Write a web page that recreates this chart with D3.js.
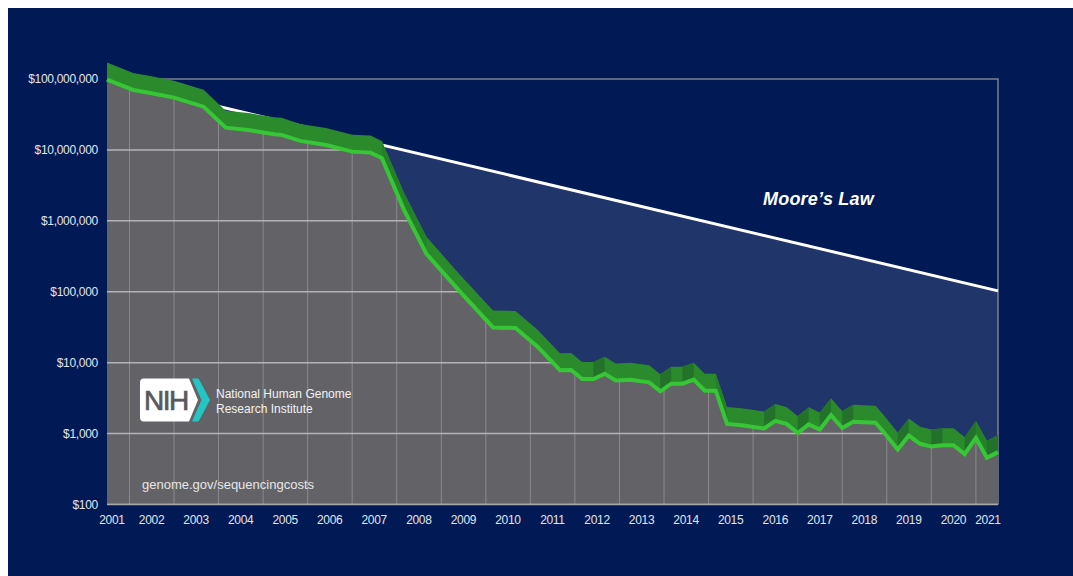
<!DOCTYPE html>
<html>
<head>
<meta charset="utf-8">
<title>Cost per Genome</title>
<script src="https://cdn.jsdelivr.net/npm/d3@7"></script>
<style>
  html, body { margin: 0; padding: 0; background: #fff; }
  svg { display: block; }
  text { font-family: "Liberation Sans", Arial, Helvetica, sans-serif; }
</style>
</head>
<body>
<div id="chart"></div>
<script>
// cost per genome
var dates = ["2001-07", "2002-02", "2002-07", "2003-01", "2003-09", "2004-03", "2004-09",
  "2005-04", "2005-06", "2005-11", "2006-06", "2007-01", "2007-06", "2007-09", "2008-03",
  "2008-09", "2009-06", "2010-03", "2010-09", "2011-03", "2011-09", "2011-12", "2012-03",
  "2012-06", "2012-09", "2012-12", "2013-04", "2013-09", "2013-12", "2014-03", "2014-06",
  "2014-09", "2014-12", "2015-03", "2015-06", "2015-10", "2016-04", "2016-07", "2016-10",
  "2017-01", "2017-04", "2017-07", "2017-10", "2018-01", "2018-04", "2018-10", "2018-12",
  "2019-04", "2019-07", "2019-10", "2020-01", "2020-04", "2020-07", "2020-10", "2021-01",
  "2021-04", "2021-07"];
var costs = [98000000, 70000000, 63000000, 54600000, 40700000, 20600000, 19100000,
  16600000, 16300000, 13400000, 11700000, 9460000, 9160000, 7700000, 1430000,
  343000, 101000, 31400, 30800, 16800, 7830, 7890, 5890,
  5890, 6950, 5610, 5720, 5280, 3950, 5060, 5060,
  5760, 4030, 4030, 1370, 1310, 1180, 1510, 1370,
  1020, 1350, 1140, 1820, 1200, 1470, 1420, 1080,
  596, 938, 718, 656, 684, 684, 514, 869,
  455, 548];

// Moore's law reference line
var mooreDates = ["2001-07", "2021-07"];
var mooreCosts = [97000000, 103000];

var yTicks = [100, 1000, 10000, 100000, 1000000, 10000000, 100000000];
var yearLabels = ["2001", "2002", "2003", "2004", "2005", "2006", "2007", "2008", "2009", "2010",
  "2011", "2012", "2013", "2014", "2015", "2016", "2017", "2018", "2019", "2020", "2021"];

var W = 1073, H = 576;
var x0 = 107, x1 = 998, yTop = 79, yBase = 504.5;
var depth = 17; // ribbon thickness

var parse = d3.timeParse("%Y-%m");
var data = dates.map(function(d, i) { return {date: parse(d), cost: costs[i]}; });
var moore = mooreDates.map(function(d, i) { return {date: parse(d), cost: mooreCosts[i]}; });

var x = d3.scaleTime()
    .domain([parse("2001-07"), parse("2021-07")])
    .range([x0, x1]);
var y = d3.scaleLog()
    .domain([100, 100000000])
    .range([yBase, yTop]);

var svg = d3.select("#chart").append("svg")
    .attr("width", W)
    .attr("height", H);

svg.append("rect")
    .attr("x", 8).attr("y", 8)
    .attr("width", W - 8).attr("height", H - 8)
    .attr("fill", "#011a55");

// area under Moore's law
svg.append("path")
    .datum(moore)
    .attr("fill", "#20356a")
    .attr("d", d3.area()
      .x(function(d) { return x(d.date); })
      .y0(yBase)
      .y1(function(d) { return y(d.cost); }));

// frame
svg.append("path")
    .attr("d", "M" + x0 + "," + yTop + "H" + x1 + "V" + yBase)
    .attr("fill", "none")
    .attr("stroke", "#7c8090")
    .attr("stroke-width", 1.5);

svg.append("path")
    .datum(moore)
    .attr("fill", "none")
    .attr("stroke", "#ffffff")
    .attr("stroke-width", 3)
    .attr("d", d3.line()
      .x(function(d) { return x(d.date); })
      .y(function(d) { return y(d.cost); }));

var grayArea = d3.area()
    .x(function(d) { return x(d.date); })
    .y0(yBase)
    .y1(function(d) { return y(d.cost); });

svg.append("clipPath").attr("id", "under")
  .append("path").datum(data).attr("d", grayArea);

svg.append("path")
    .datum(data)
    .attr("fill", "#636367")
    .attr("d", grayArea);

// gridlines, only inside the gray area
var grid = svg.append("g").attr("clip-path", "url(#under)");
var yearStarts = yearLabels.slice(1).map(function(s) { return parse(s + "-01"); });
grid.selectAll(".vgrid")
    .data(yearStarts)
  .enter().append("line")
    .attr("x1", function(d) { return x(d); })
    .attr("x2", function(d) { return x(d); })
    .attr("y1", yTop).attr("y2", yBase)
    .attr("stroke", "#8a8a8e")
    .attr("stroke-width", 1);
grid.selectAll(".hgrid")
    .data(yTicks)
  .enter().append("line")
    .attr("x1", x0).attr("x2", x1)
    .attr("y1", function(d) { return y(d); })
    .attr("y2", function(d) { return y(d); })
    .attr("stroke", "#b4b4b6")
    .attr("stroke-width", 1.5);

svg.append("line")
    .attr("x1", x0).attr("x2", x1)
    .attr("y1", yBase).attr("y2", yBase)
    .attr("stroke", "#a8a8ac")
    .attr("stroke-width", 1.5);

// green ribbon
svg.append("path")
    .datum(data)
    .attr("fill", "#2b8a2b")
    .attr("d", d3.area()
      .x(function(d) { return x(d.date); })
      .y0(function(d) { return y(d.cost); })
      .y1(function(d) { return y(d.cost) - depth; }));

var segs = d3.pairs(data).filter(function(p) {
  var dy = y(p[1].cost) - y(p[0].cost), dx = x(p[1].date) - x(p[0].date);
  return dy < -1 || dy / dx > 1.5;
});
svg.selectAll(".facet")
    .data(segs)
  .enter().append("path")
    .attr("fill", function(p) { return y(p[1].cost) < y(p[0].cost) ? "#22722a" : "#25802a"; })
    .attr("d", function(p) {
      var xa = x(p[0].date), xb = x(p[1].date), ya = y(p[0].cost), yb = y(p[1].cost);
      return "M" + xa + "," + ya + "L" + xb + "," + yb + "L" + xb + "," + (yb - depth) +
        "L" + xa + "," + (ya - depth) + "Z";
    });

svg.append("path")
    .datum(data)
    .attr("fill", "none")
    .attr("stroke", "#36c636")
    .attr("stroke-width", 4)
    .attr("d", d3.line()
      .x(function(d) { return x(d.date); })
      .y(function(d) { return y(d.cost); }));

// y axis labels
var yAxis = svg.append("g")
    .attr("transform", "translate(" + (x0 - 9) + ",0)")
    .call(d3.axisLeft(y).tickValues(yTicks).tickSize(0).tickFormat(d3.format("$,")));
yAxis.select(".domain").remove();
yAxis.selectAll("text")
    .attr("x", 0)
    .attr("fill", "#e2e5ec")
    .style("font-size", "12px")
    .style("letter-spacing", "-0.3px")
    .style("font-family", "'Liberation Sans', Arial, sans-serif");

// year labels, centred in each year band
svg.selectAll(".year")
    .data(yearLabels)
  .enter().append("text")
    .attr("x", function(d) {
      var mid = x(parse(d + "-07"));
      return Math.max(x0 + 5, Math.min(x1 - 10, mid));
    })
    .attr("y", 524)
    .attr("text-anchor", "middle")
    .attr("fill", "#e2e5ec")
    .style("font-size", "12px")
    .style("letter-spacing", "-0.3px")
    .text(function(d) { return d; });

svg.append("text")
    .attr("x", 763).attr("y", 205)
    .attr("fill", "#ffffff")
    .style("font-size", "18px")
    .style("font-weight", "bold")
    .style("font-style", "italic")
    .style("letter-spacing", "0.2px")
    .text("Moore\u2019s Law");

// NIH logo
var logo = svg.append("g");
logo.append("path")
    .attr("d", "M144,378.5H189L198,400L189,421.5H144Q140,421.5 140,417.5V382.5Q140,378.5 144,378.5Z")
    .attr("fill", "#ffffff");
logo.append("path")
    .attr("d", "M192,378.5H198.5L210,400L198.5,421.5H192L201.5,400Z")
    .attr("fill", "#22c7c4");
logo.append("text")
    .attr("x", 144).attr("y", 410)
    .attr("fill", "#58595b")
    .attr("stroke", "#58595b")
    .attr("stroke-width", 0.7)
    .style("font-size", "28px")
    .style("letter-spacing", "-1.5px")
    .text("NIH");
logo.append("text")
    .attr("x", 216).attr("y", 397.5)
    .attr("fill", "#f2f2f2")
    .style("font-size", "12px")
    .text("National Human Genome");
logo.append("text")
    .attr("x", 216).attr("y", 412.5)
    .attr("fill", "#f2f2f2")
    .style("font-size", "12px")
    .text("Research Institute");

svg.append("text")
    .attr("x", 142).attr("y", 489)
    .attr("fill", "#e6e6e8")
    .style("font-size", "13px")
    .text("genome.gov/sequencingcosts");
</script>
</body>
</html>
